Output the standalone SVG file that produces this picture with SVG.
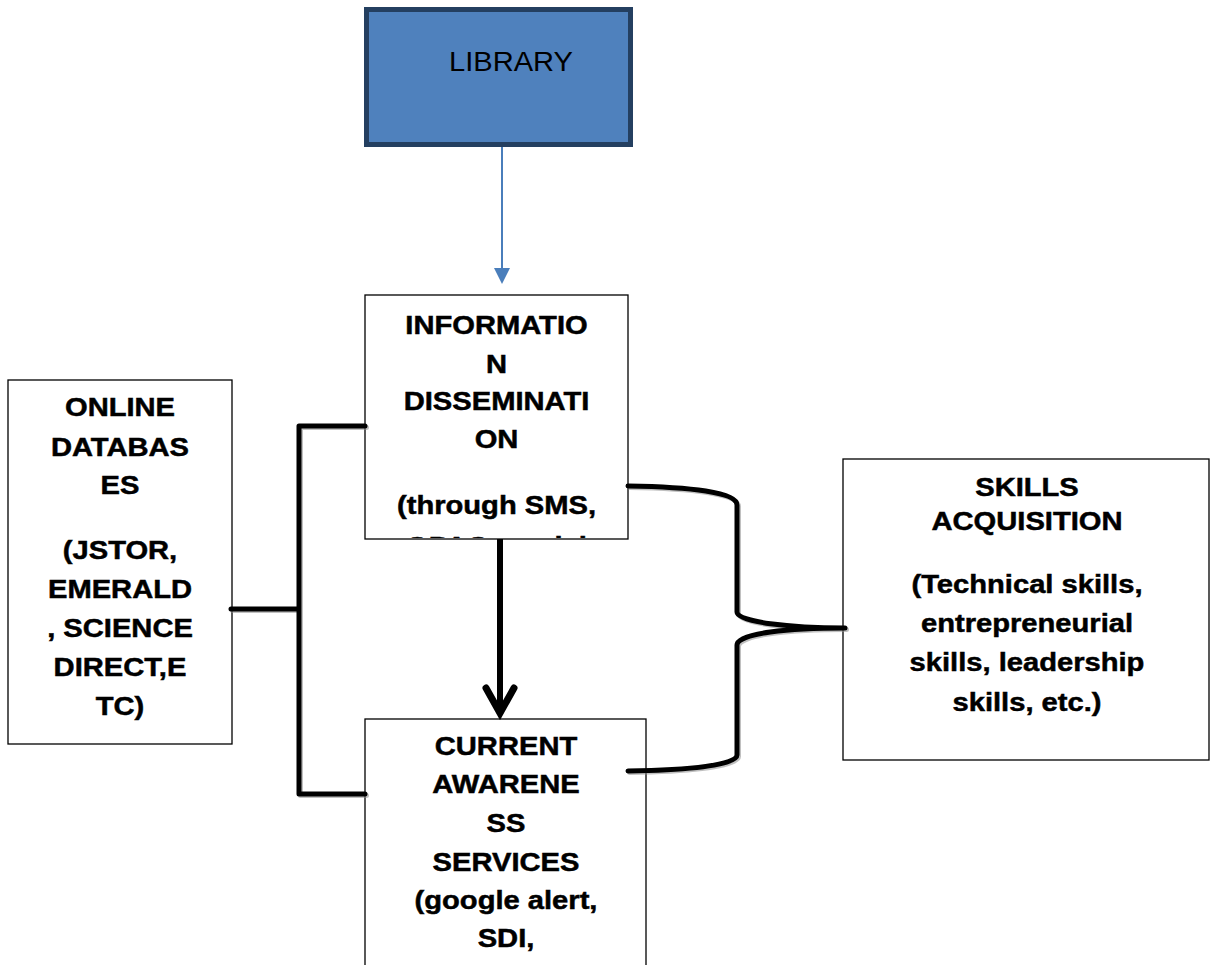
<svg xmlns="http://www.w3.org/2000/svg" width="1212" height="965" viewBox="0 0 1212 965">
  <style>
    .box { fill: #ffffff; stroke: #000000; stroke-width: 1.3; }
    .lib { fill: #4F81BD; stroke: #243F60; stroke-width: 5; }
    .lbl { font-family: "Liberation Sans", Arial, sans-serif; font-weight: bold; font-size: 26.5px; fill: #000000; stroke: #000000; stroke-width: 0.5; text-anchor: middle; }
    .libtxt { font-family: "Liberation Sans", Arial, sans-serif; font-size: 28px; fill: #000000; }
    .thick { fill: none; stroke: #000000; stroke-width: 5; stroke-linecap: round; stroke-linejoin: round; }
    .shadow { fill: none; stroke: #8c8c8c; stroke-width: 5; stroke-linecap: round; stroke-linejoin: round; opacity: 0.55; }
  </style>
  <defs>
    <clipPath id="infoClip">
      <rect x="365" y="295" width="263" height="243"/>
    </clipPath>
  </defs>

  <rect width="1212" height="965" fill="#ffffff"/>

  <!-- LIBRARY -->
  <g id="library">
    <rect class="lib" x="366.5" y="9.5" width="264" height="135"/>
    <text class="libtxt" x="449" y="71" textLength="124" lengthAdjust="spacingAndGlyphs">LIBRARY</text>
  </g>

  <!-- INFORMATION DISSEMINATION -->
  <g id="info-dissemination">
    <rect class="box" x="365" y="295" width="263" height="244"/>
    <g clip-path="url(#infoClip)">
      <g transform="translate(496.5,0) scale(1.1,1)">
        <text class="lbl" x="0" y="334">INFORMATIO</text>
        <text class="lbl" x="0" y="373">N</text>
        <text class="lbl" x="0" y="410">DISSEMINATI</text>
        <text class="lbl" x="0" y="448">ON</text>
        <text class="lbl" x="0" y="514">(through SMS,</text>
        <text class="lbl" x="0" y="555">OPAC, social</text>
      </g>
    </g>
  </g>

  <!-- ONLINE DATABASES -->
  <g id="online-databases">
    <rect class="box" x="8" y="380" width="224" height="364"/>
    <g transform="translate(120,0) scale(1.1,1)">
      <text class="lbl" x="0" y="416">ONLINE</text>
      <text class="lbl" x="0" y="456">DATABAS</text>
      <text class="lbl" x="0" y="494">ES</text>
      <text class="lbl" x="0" y="559">(JSTOR,</text>
      <text class="lbl" x="0" y="598">EMERALD</text>
      <text class="lbl" x="0" y="637">, SCIENCE</text>
      <text class="lbl" x="0" y="676">DIRECT,E</text>
      <text class="lbl" x="0" y="715">TC)</text>
    </g>
  </g>

  <!-- SKILLS ACQUISITION -->
  <g id="skills-acquisition">
    <rect class="box" x="843" y="459" width="366" height="301"/>
    <g transform="translate(1027,0) scale(1.1,1)">
      <text class="lbl" x="0" y="496">SKILLS</text>
      <text class="lbl" x="0" y="530">ACQUISITION</text>
      <text class="lbl" x="0" y="593">(Technical skills,</text>
      <text class="lbl" x="0" y="632">entrepreneurial</text>
      <text class="lbl" x="0" y="671">skills, leadership</text>
      <text class="lbl" x="0" y="711">skills, etc.)</text>
    </g>
  </g>

  <!-- CURRENT AWARENESS SERVICES -->
  <g id="current-awareness">
    <rect class="box" x="365" y="719" width="281" height="260"/>
    <g transform="translate(506,0) scale(1.1,1)">
      <text class="lbl" x="0" y="755">CURRENT</text>
      <text class="lbl" x="0" y="793">AWARENE</text>
      <text class="lbl" x="0" y="832">SS</text>
      <text class="lbl" x="0" y="871">SERVICES</text>
      <text class="lbl" x="0" y="909">(google alert,</text>
      <text class="lbl" x="0" y="947">SDI,</text>
    </g>
  </g>

  <!-- connectors, drawn over the box outlines -->
  <g id="connectors">
    <!-- blue arrow from LIBRARY -->
    <line x1="502" y1="147" x2="502" y2="270" stroke="#4A7EBB" stroke-width="2"/>
    <polygon points="494,268 510,268 502,284" fill="#4A7EBB"/>

    <!-- left bracket joining online databases -->
    <g transform="translate(1.5,1.5)">
      <path class="shadow" d="M365,426 L299,426 L299,794 L365,794 M231,609 L299,609"/>
    </g>
    <path class="thick" d="M365,426 L299,426 L299,794 L365,794 M231,609 L299,609"/>

    <!-- right curly brace to skills acquisition -->
    <g transform="translate(1.5,1.5)">
      <path class="shadow" d="M628,486 C690,487 737,492 737,505 L737,612 C737,622 790,628 845,628 C790,628 737,633 737,645 L737,755 C737,765 690,770 628,771"/>
    </g>
    <path class="thick" d="M628,486 C690,487 737,492 737,505 L737,612 C737,622 790,628 845,628 C790,628 737,633 737,645 L737,755 C737,765 690,770 628,771"/>

    <!-- thick arrow: information dissemination to current awareness -->
    <line x1="500" y1="539" x2="500" y2="712" stroke="#000000" stroke-width="6"/>
    <polyline points="486,688 500,713 514,688" fill="none" stroke="#000000" stroke-width="7" stroke-linecap="round" stroke-linejoin="miter"/>
  </g>
</svg>
